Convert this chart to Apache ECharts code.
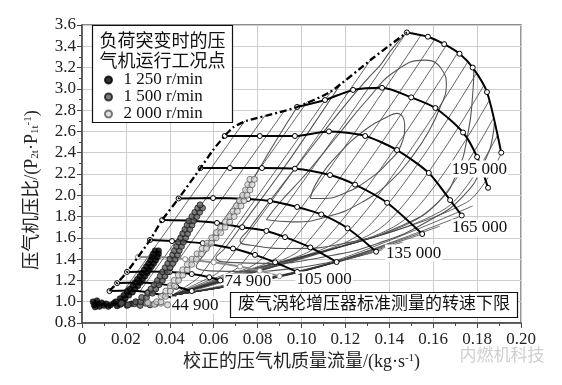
<!DOCTYPE html>
<html><head><meta charset="utf-8">
<script src="https://cdn.jsdelivr.net/npm/echarts@6/dist/echarts.min.js"></script>
<style>html,body{margin:0;padding:0;background:#fff}#c{width:562px;height:385px}</style>
</head><body><div id="c"></div>
<script>
// ---------------- data ----------------
const xTicks = {min: 0, max: 0.2, step: 0.02};
const yTicks = {min: 0.8, max: 3.6, step: 0.2};

const legendNames = ['1 250 r/min', '1 500 r/min', '2 000 r/min'];
const legendTitle = ['负荷突变时的压', '气机运行工况点'];
const limitText = '废气涡轮增压器标准测量的转速下限';

// surge line (dash-dot)
const surgeLine = [[0.0125,1.10],[0.016,1.175],[0.0205,1.28],[0.0255,1.42],[0.031,1.58],[0.0365,1.767],[0.044,1.97],[0.054,2.256],[0.0597,2.425],[0.065,2.557],[0.069,2.64],[0.075,2.70],[0.090,2.78],[0.098,2.83],[0.113,2.97],[0.1326,3.29],[0.148,3.53]];

// speed lines
const speedTop   = [[0.148,3.53],[0.1576,3.49],[0.165,3.42],[0.172,3.33],[0.178,3.2],[0.1845,2.97],[0.191,2.40]];
const speed195000 = [[0.098,2.83],[0.1107,2.895],[0.1235,2.99],[0.1367,3.01],[0.150,2.92],[0.161,2.82],[0.1736,2.59],[0.180,2.36],[0.185,2.07]];
const speed165000 = [[0.065,2.557],[0.081,2.557],[0.097,2.557],[0.1125,2.60],[0.129,2.557],[0.1435,2.425],[0.158,2.21],[0.1677,1.955],[0.173,1.81]];
const speed150000 = [[0.054,2.256],[0.0674,2.256],[0.082,2.256],[0.097,2.25],[0.113,2.19],[0.1244,2.10],[0.139,1.93],[0.155,1.636]];
const speed135000 = [[0.044,1.97],[0.0597,1.974],[0.0757,1.965],[0.0857,1.946],[0.098,1.89],[0.109,1.82],[0.121,1.69],[0.134,1.47]];
const speed120000 = [[0.0365,1.767],[0.050,1.76],[0.0615,1.74],[0.073,1.70],[0.084,1.665],[0.0925,1.607],[0.104,1.51],[0.116,1.373]];
const speed105000 = [[0.031,1.58],[0.041,1.57],[0.055,1.55],[0.0688,1.50],[0.0788,1.44],[0.088,1.37],[0.098,1.28]];
const speed90000  = [[0.0255,1.42],[0.035,1.42],[0.047,1.40],[0.060,1.37],[0.072,1.33],[0.081,1.29],[0.090,1.24]];
const speed74900  = [[0.0205,1.28],[0.030,1.285],[0.040,1.28],[0.050,1.26],[0.058,1.23],[0.063,1.20]];
const speed60000  = [[0.016,1.175],[0.025,1.18],[0.034,1.17],[0.043,1.14],[0.050,1.10]];
const speed44900  = [[0.0125,1.10],[0.021,1.105],[0.030,1.09],[0.037,1.06],[0.042,1.03]];

// thin auxiliary lines
const betaLines = [
 [[0.0193,1.11],[0.0742,2.70]],
 [[0.0265,1.10],[0.0834,2.75]],
 [[0.0336,1.09],[0.0924,2.80]],
 [[0.0404,1.07],[0.1027,2.88]],
 [[0.041,1.06],[0.0476,1.146],[0.0541,1.25],[0.114,2.99]],
 [[0.041,1.06],[0.0522,1.169],[0.0634,1.303],[0.1314,3.27]],
 [[0.041,1.06],[0.0569,1.193],[0.0728,1.355],[0.1475,3.52]],
 [[0.041,1.06],[0.0616,1.216],[0.0821,1.408],[0.1543,3.50]],
 [[0.041,1.06],[0.0662,1.24],[0.0914,1.46],[0.1605,3.46]],
 [[0.041,1.06],[0.0709,1.264],[0.1007,1.513],[0.166,3.41]],
 [[0.041,1.06],[0.0755,1.287],[0.110,1.565],[0.1712,3.34]],
 [[0.041,1.06],[0.0802,1.311],[0.1193,1.618],[0.1756,3.25]],
 [[0.041,1.06],[0.0848,1.335],[0.1286,1.67],[0.1795,3.14]],
 [[0.041,1.06],[0.0895,1.358],[0.1379,1.723],[0.183,3.03]],
 [[0.041,1.06],[0.0941,1.382],[0.1472,1.775],[0.1855,2.89]],
 [[0.041,1.06],[0.0988,1.405],[0.1566,1.828],[0.1873,2.72]],
 [[0.041,1.06],[0.1035,1.429],[0.1659,1.88],[0.1892,2.56]],
 [[0.041,1.06],[0.1081,1.453],[0.1752,1.933],[0.191,2.39]],
 [[0.041,1.06],[0.053,1.1185],[0.065,1.19]],
 [[0.041,1.06],[0.0595,1.132],[0.078,1.22]],
 [[0.041,1.06],[0.0655,1.1436],[0.090,1.25]],
 [[0.041,1.06],[0.071,1.159],[0.101,1.29]],
 [[0.041,1.06],[0.0755,1.178],[0.110,1.34]],
 [[0.041,1.06],[0.080,1.195],[0.119,1.39]],
 [[0.041,1.06],[0.0845,1.212],[0.128,1.44]],
 [[0.041,1.06],[0.089,1.228],[0.137,1.49]],
 [[0.041,1.06],[0.0935,1.25],[0.146,1.56]],
 [[0.041,1.06],[0.098,1.273],[0.155,1.636]],
 [[0.041,1.06],[0.102,1.294],[0.163,1.71]],
 [[0.041,1.06],[0.1065,1.319],[0.172,1.80]],
 [[0.041,1.06],[0.1095,1.346],[0.178,1.90]]
];

// efficiency contours
const effInner = [[0.104,1.97],[0.1075,2.14],[0.1175,2.40],[0.130,2.63],[0.139,2.735],[0.1435,2.77],[0.147,2.66],[0.1455,2.48],[0.139,2.30],[0.130,2.14],[0.1195,2.02],[0.110,1.97],[0.104,1.97]];
const effMid = [[0.084,1.77],[0.090,1.93],[0.102,2.20],[0.116,2.55],[0.130,2.90],[0.143,3.17],[0.1563,3.27],[0.164,3.18],[0.166,3.02],[0.163,2.82],[0.1585,2.62],[0.151,2.38],[0.141,2.14],[0.128,1.94],[0.112,1.80],[0.096,1.75],[0.084,1.77]];
const effOuter = [[0.1465,3.50],[0.1403,3.35],[0.1358,3.22],[0.1312,3.12],[0.118,2.80],[0.100,2.33],[0.085,1.93],[0.076,1.68],[0.072,1.57],[0.077,1.53],[0.095,1.50],[0.120,1.55],[0.145,1.71],[0.162,1.93],[0.171,2.22],[0.176,2.6],[0.178,2.95],[0.1785,3.18]];
const eff4 = [[0.117,3.02],[0.105,2.65],[0.090,2.20],[0.075,1.78],[0.065,1.50],[0.061,1.41],[0.067,1.37],[0.085,1.36],[0.110,1.42],[0.135,1.55],[0.158,1.76],[0.174,2.0],[0.183,2.3],[0.1875,2.6],[0.1878,2.68]];
const eff5 = [[0.098,2.83],[0.088,2.5],[0.075,2.05],[0.062,1.62],[0.054,1.40],[0.052,1.33],[0.058,1.29],[0.075,1.285],[0.095,1.31],[0.115,1.38],[0.132,1.46]];

// operating points
const pts1250 = [[0.0050,1.00],[0.0055,0.97],[0.0060,0.95],[0.0068,1.01],[0.0075,0.98],[0.0080,0.955],[0.0090,0.99],[0.0100,0.965],[0.0110,0.98],[0.0120,0.955],[0.0130,0.97],[0.0145,0.985],[0.0160,0.96],[0.0175,0.975],[0.0190,0.99],[0.0205,0.965],[0.0225,0.98],[0.0245,0.995],
 [0.0153,1.00],[0.0177,1.00],[0.0173,1.03],[0.0197,1.03],[0.0190,1.06],[0.0214,1.06],[0.0206,1.09],[0.0230,1.09],[0.0218,1.12],[0.0242,1.12],[0.0231,1.15],[0.0255,1.15],[0.0242,1.18],[0.0266,1.18],[0.0252,1.21],[0.0276,1.21],[0.0263,1.24],[0.0287,1.24],[0.0273,1.27],[0.0297,1.27],[0.0283,1.30],[0.0307,1.30],[0.0293,1.33],[0.0317,1.33],[0.0303,1.36],[0.0327,1.36],[0.0312,1.39],[0.0336,1.39],[0.0319,1.42],[0.0343,1.42],[0.0325,1.45],[0.0349,1.45],[0.0333,1.48],[0.0349,1.48]];
const pts1500 = [[0.0180,0.985],[0.0210,0.97],[0.0240,0.98],[0.0265,0.965],[0.0290,0.985],[0.0310,0.97],[0.0335,0.98],
 [0.0245,1.00],[0.0267,1.00],[0.0272,1.04],[0.0294,1.04],[0.0299,1.08],[0.0321,1.08],[0.0314,1.12],[0.0336,1.12],[0.0329,1.16],[0.0351,1.16],[0.0344,1.20],[0.0366,1.20],[0.0356,1.24],[0.0378,1.24],[0.0367,1.28],[0.0389,1.28],[0.0379,1.32],[0.0401,1.32],[0.0391,1.36],[0.0413,1.36],[0.0401,1.40],[0.0423,1.40],[0.0413,1.44],[0.0435,1.44],[0.0421,1.48],[0.0443,1.48],[0.0431,1.52],[0.0453,1.52],[0.0440,1.56],[0.0462,1.56],[0.0450,1.60],[0.0472,1.60],[0.0459,1.64],[0.0481,1.64],[0.0469,1.68],[0.0491,1.68],[0.0479,1.72],[0.0501,1.72],[0.0487,1.76],[0.0509,1.76],[0.0501,1.80],[0.0523,1.80],[0.0514,1.84],[0.0536,1.84],[0.0527,1.88],[0.0549,1.88],[0.0538,1.91]];
const pts2000 = [[0.0300,0.99],[0.0330,0.975],[0.0360,0.985],[0.0390,0.97],[0.0420,0.985],[0.0445,0.975],
 [0.0340,1.00],[0.0360,1.00],[0.0361,1.05],[0.0381,1.05],[0.0382,1.10],[0.0402,1.10],[0.0401,1.15],[0.0421,1.15],[0.0420,1.20],[0.0440,1.20],[0.0439,1.25],[0.0459,1.25],[0.0459,1.30],[0.0479,1.30],[0.0480,1.35],[0.0500,1.35],[0.0501,1.40],[0.0521,1.40],[0.0524,1.45],[0.0544,1.45],[0.0547,1.50],[0.0567,1.50],[0.0570,1.55],[0.0590,1.55],[0.0591,1.60],[0.0611,1.60],[0.0612,1.65],[0.0632,1.65],[0.0632,1.70],[0.0652,1.70],[0.0653,1.75],[0.0673,1.75],[0.0673,1.80],[0.0693,1.80],[0.0688,1.85],[0.0708,1.85],[0.0704,1.90],[0.0724,1.90],[0.0718,1.95],[0.0738,1.95],[0.0732,2.00],[0.0752,2.00],[0.0745,2.05],[0.0765,2.05],[0.0755,2.10],[0.0775,2.10],[0.0765,2.15],[0.0785,2.15]];

// ---------------- drawing ----------------
const SERIF = "'Liberation Serif','DejaVu Serif',serif";
const MIXED = "'Liberation Serif','Noto Sans CJK SC',serif";

const speedLines = [
  {data: speedTop}, {data: speed195000}, {data: speed165000}, {data: speed150000},
  {data: speed135000}, {data: speed120000}, {data: speed105000},
  {data: speed90000, color: '#8c8c8c'}, {data: speed74900}, {data: speed60000}, {data: speed44900}
];
const speedLabels = [
  {line: speed195000, text: '195 000', dx: -8.6, dy: -18.8},
  {line: speed165000, text: '165 000', dx: 17.8, dy: 12.5},
  {line: speed135000, text: '135 000', dx: 37.4, dy: 1.4},
  {line: speed105000, text: '105 000', dx: 27, dy: 8},
  {line: speed74900,  text: '74 900',  dx: 27.7, dy: 1.6},
  {line: speed44900,  text: '44 900',  dx: 21, dy: 6.6}
];

const series = [];
betaLines.forEach(p => series.push({type: 'line', data: p, smooth: 0.3, symbol: 'none', silent: true,
  lineStyle: {color: '#333', width: 0.75}, z: 1}));
[effInner, effMid, effOuter, eff4, eff5].forEach(p => series.push({type: 'line', data: p, smooth: 0.5, symbol: 'none', silent: true,
  lineStyle: {color: '#555', width: 1.1}, z: 1}));
speedLines.forEach(s => series.push({type: 'line', data: s.data, smooth: 0.25, symbol: 'circle', symbolSize: 5, showAllSymbol: true, silent: true,
  lineStyle: {color: s.color || '#000', width: 2}, itemStyle: {color: '#fff', borderColor: s.color || '#000', borderWidth: 1}, z: 3}));
series.push({type: 'line', data: surgeLine, smooth: 0.2, symbol: 'none', silent: true,
  lineStyle: {color: '#000', width: 2.3, type: [7, 3, 2, 3]}, z: 4});
series.push({type: 'scatter', name: legendNames[0], data: pts1250, symbol: 'circle', symbolSize: 6,
  itemStyle: {color: '#000', borderColor: '#000', borderWidth: 0.5}, z: 5});
series.push({type: 'scatter', name: legendNames[1], data: pts1500, symbol: 'circle', symbolSize: 6,
  itemStyle: {color: '#5e5e5e', borderColor: '#111', borderWidth: 0.9}, z: 6});
series.push({type: 'scatter', name: legendNames[2], data: pts2000, symbol: 'circle', symbolSize: 6,
  itemStyle: {color: '#d6d6d6', borderColor: '#555', borderWidth: 0.9}, z: 7});

const option = {
  animation: false,
  backgroundColor: '#fff',
  grid: {left: 82, right: 41, top: 25, bottom: 62, show: true, borderColor: '#6a6a6a', borderWidth: 1.4},
  xAxis: {
    type: 'value', min: xTicks.min, max: xTicks.max, interval: xTicks.step,
    axisLine: {show: true, onZero: false, lineStyle: {color: '#444', width: 1.5}},
    axisTick: {show: true, length: 5, lineStyle: {color: '#444'}},
    minorTick: {show: true, splitNumber: 2, length: 3, lineStyle: {color: '#444'}},
    splitLine: {show: true, lineStyle: {color: '#cdcdcd', width: 1}},
    axisLabel: {fontFamily: SERIF, fontSize: 17, color: '#222', margin: 8,
      formatter: v => Math.abs(v) < 1e-9 ? '0' : v.toFixed(2)},
    name: '校正的压气机质量流量/(kg·s{sup|-1})', nameLocation: 'middle', nameGap: 30,
    nameTextStyle: {fontFamily: MIXED, fontSize: 18, color: '#222',
      rich: {sup: {fontFamily: SERIF, fontSize: 11, verticalAlign: 'top', color: '#222'}}}
  },
  yAxis: {
    type: 'value', min: yTicks.min, max: yTicks.max, interval: yTicks.step,
    axisLine: {show: true, onZero: false, lineStyle: {color: '#444', width: 1.5}},
    axisTick: {show: true, length: 5, lineStyle: {color: '#444'}},
    minorTick: {show: true, splitNumber: 2, length: 3, lineStyle: {color: '#444'}},
    splitLine: {show: true, lineStyle: {color: '#cdcdcd', width: 1}},
    axisLabel: {fontFamily: SERIF, fontSize: 17, color: '#222', margin: 6,
      formatter: v => v.toFixed(1)}
  },
  legend: {
    data: legendNames, orient: 'vertical', left: 104, top: 71.5, itemGap: 0,
    itemWidth: 8, itemHeight: 7, icon: 'circle', z: 12, padding: 0,
    textStyle: {fontFamily: SERIF, fontSize: 17, color: '#111', padding: [0, 0, 0, 6]}
  },
  series: series
};

const chart = echarts.init(document.getElementById('c'), null, {renderer: 'canvas'});
chart.setOption(option);

const toPx = p => chart.convertToPixel({gridIndex: 0}, p);
const graphics = [];
// legend box
graphics.push({type: 'rect', z: 10, shape: {x: 92.5, y: 25.5, width: 140, height: 97},
  style: {fill: '#fff', stroke: '#111', lineWidth: 1.2}});
legendTitle.forEach((t, i) => graphics.push({type: 'text', z: 11, x: 162.5, y: 42 + i * 20,
  style: {text: t, fontFamily: MIXED, fontSize: 18, fill: '#111', align: 'center', verticalAlign: 'middle'}}));
// lower limit box
graphics.push({type: 'rect', z: 10, shape: {x: 230.5, y: 292.5, width: 287, height: 25},
  style: {fill: '#fff', stroke: '#111', lineWidth: 1.2}});
graphics.push({type: 'text', z: 11, x: 374, y: 305,
  style: {text: limitText, fontFamily: MIXED, fontSize: 17, fill: '#111', align: 'center', verticalAlign: 'middle'}});
// speed labels
speedLabels.forEach(d => {
  const p = toPx(d.line[d.line.length - 1]);
  graphics.push({type: 'text', z: 11, x: p[0] + d.dx, y: p[1] + d.dy,
    style: {text: d.text, fontFamily: SERIF, fontSize: 17, fill: '#111', align: 'center', verticalAlign: 'middle',
      backgroundColor: '#fff', padding: [0, 1]}});
});
// y axis title (rotated)
graphics.push({type: 'text', z: 11, x: 32, y: 190, rotation: Math.PI / 2,
  style: {text: '压气机压比/(P{sub|2t}·P{sub|1t}{sup|-1})', fontFamily: MIXED, fontSize: 18, fill: '#222',
    align: 'center', verticalAlign: 'middle',
    rich: {sub: {fontFamily: SERIF, fontSize: 11, verticalAlign: 'bottom', fill: '#222'},
           sup: {fontFamily: SERIF, fontSize: 11, verticalAlign: 'top', fill: '#222'}}}});
// watermark
graphics.push({type: 'text', z: 11, x: 502, y: 357,
  style: {text: '内燃机科技', fontFamily: MIXED, fontSize: 17, fill: '#cfcfcf', align: 'center', verticalAlign: 'middle'}});
chart.setOption({graphic: graphics});
</script></body></html>
